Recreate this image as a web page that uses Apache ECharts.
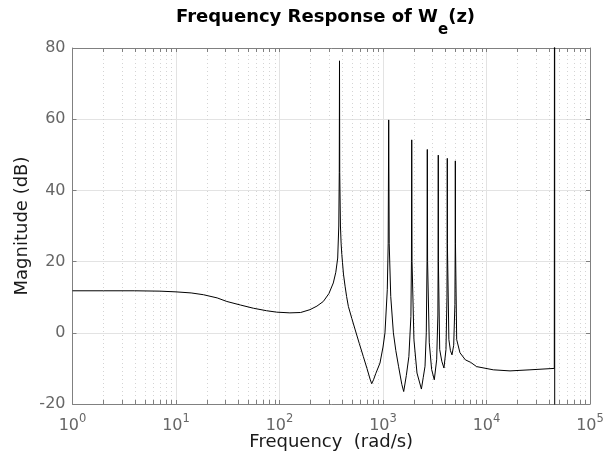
<!DOCTYPE html>
<html><head><meta charset="utf-8">
<script src="https://cdn.jsdelivr.net/npm/echarts@6/dist/echarts.min.js"></script>
<style>html,body{margin:0;padding:0;background:#fff}#c{width:604px;height:458px}</style>
</head><body><div id="c"></div>
<script>
// Frequency (rad/s) and magnitude (dB)
const freq = [1, 2, 4, 7, 10, 14, 18.4, 25, 31, 42, 56, 75, 94, 126, 160, 197, 230, 265, 300, 331, 350, 365, 374, 378, 380, 382, 388, 394, 400, 406, 415, 430, 445, 463, 500, 539, 590, 646, 700, 750, 778, 810, 850, 935, 1000, 1045, 1100, 1122, 1135, 1148, 1188, 1260, 1330, 1413, 1520, 1585, 1680, 1778, 1860, 1883, 1895, 1908, 1990, 2130, 2350, 2450, 2547, 2620, 2664, 2680, 2696, 2800, 2950, 3130, 3300, 3390, 3410, 3420, 3430, 3530, 3700, 3880, 4060, 4150, 4170, 4180, 4190, 4330, 4480, 4640, 4820, 4950, 4985, 5000, 5015, 5150, 5540, 6250, 7030, 8030, 11640, 16870, 26300, 45200, 45600, 45600];
const magDb = [11.8, 11.8, 11.8, 11.7, 11.5, 11.2, 10.7, 9.8, 8.8, 7.8, 6.9, 6.2, 5.8, 5.6, 5.7, 6.5, 7.5, 8.8, 11.0, 14.0, 17.0, 21.0, 30.0, 45.0, 76.4, 45.0, 30.0, 25.0, 22.0, 19.8, 16.5, 13.1, 10.2, 7.4, 4.0, 0.8, -3.0, -6.7, -10.0, -13.0, -14.3, -13.2, -11.5, -8.5, -4.0, 0.0, 12.1, 25.0, 59.8, 25.0, 10.2, 0.0, -5.0, -9.4, -14.5, -16.5, -12.0, -6.7, 4.6, 20.0, 54.2, 20.0, -1.9, -11.3, -15.8, -12.5, -9.4, 0.0, 20.0, 51.5, 20.0, -2.8, -10.3, -13.2, -7.6, 5.0, 20.0, 49.9, 20.0, -4.7, -8.0, -9.9, -4.7, 10.0, 25.0, 49.0, 25.0, -1.9, -5.0, -6.2, -3.5, 8.0, 25.0, 48.3, 25.0, -1.9, -5.6, -7.6, -8.3, -9.5, -10.4, -10.7, -10.4, -10.0, 300, -300];
const xDecades = [1, 10, 100, 1000, 10000, 100000];
const yTickValues = [-20, 0, 20, 40, 60, 80];

const xMin = xDecades[0], xMax = xDecades[xDecades.length - 1];
const yMin = yTickValues[0], yMax = yTickValues[yTickValues.length - 1];

const curve = freq.map((f, i) => [f, magDb[i]]);

// minor log positions 2..9 x 10^k
const minor = [];
for (let k = 0; k < xDecades.length - 1; k++) {
  for (let m = 2; m <= 9; m++) minor.push(m * xDecades[k]);
}
const tickLenDb = 4 / 356 * (yMax - yMin);
const minorLines = [];
minor.forEach(v => {
  minorLines.push({ xAxis: v, lineStyle: { color: '#d4d4d4', type: [1, 3], width: 1 } });
});
minor.forEach(v => {
  minorLines.push([{ coord: [v, yMin], lineStyle: { color: '#808080', type: 'solid', width: 1 } }, { coord: [v, yMin + tickLenDb] }]);
  minorLines.push([{ coord: [v, yMax], lineStyle: { color: '#808080', type: 'solid', width: 1 } }, { coord: [v, yMax - tickLenDb] }]);
});

const tickColor = '#666666';
const boxColor = '#808080';

const chart = echarts.init(document.getElementById('c'), null, { renderer: 'canvas' });
chart.setOption({
  animation: false,
  backgroundColor: '#ffffff',
  title: {
    text: '{a|Frequency Response of W}{e|e}{a|(z)}',
    left: 176,
    top: 8,
    padding: 0,
    textStyle: {
      rich: {
        a: { fontFamily: 'DejaVu Sans', fontSize: 18, fontWeight: 'bold', color: '#000', verticalAlign: 'top', lineHeight: 22 },
        e: { fontFamily: 'DejaVu Sans', fontSize: 15, fontWeight: 'bold', color: '#000', verticalAlign: 'top', padding: [15, 0, 0, 0], lineHeight: 18 }
      }
    }
  },
  grid: { left: 72.5, right: 14, top: 48, bottom: 54, containLabel: false, outerBoundsMode: 'none' },
  xAxis: [{
    type: 'log', logBase: 10, min: xMin, max: xMax, position: 'bottom',
    name: 'Frequency  (rad/s)', nameLocation: 'middle', nameGap: 29, nameMoveOverlap: false,
    nameTextStyle: { fontFamily: 'DejaVu Sans', fontSize: 18, color: '#1a1a1a' },
    axisLine: { show: true, onZero: false, lineStyle: { color: boxColor, width: 1 } },
    axisTick: { show: true, inside: true, length: 4, lineStyle: { color: boxColor } },
    minorTick: { show: false },
    splitLine: { show: true, lineStyle: { color: '#e3e3e3', width: 1 } },
    axisLabel: {
      margin: 9,
      formatter: v => '{b|10}{s|' + Math.round(Math.log10(v)) + '}',
      rich: {
        b: { fontFamily: 'DejaVu Sans', fontSize: 16, color: tickColor, verticalAlign: 'bottom' },
        s: { fontFamily: 'DejaVu Sans', fontSize: 11.5, color: tickColor, verticalAlign: 'bottom', padding: [0, 0, 9, 0] }
      }
    }
  }, {
    type: 'log', logBase: 10, min: xMin, max: xMax, position: 'top',
    axisLine: { show: true, onZero: false, lineStyle: { color: boxColor, width: 1 } },
    axisTick: { show: true, inside: true, length: 4, lineStyle: { color: boxColor } },
    axisLabel: { show: false }, splitLine: { show: false }
  }],
  yAxis: [{
    type: 'value', min: yMin, max: yMax, interval: 20, position: 'left',
    name: 'Magnitude (dB)', nameLocation: 'middle', nameGap: 41, nameMoveOverlap: false,
    nameTextStyle: { fontFamily: 'DejaVu Sans', fontSize: 18, color: '#1a1a1a' },
    axisLine: { show: true, onZero: false, lineStyle: { color: boxColor, width: 1 } },
    axisTick: { show: true, inside: true, length: 4, lineStyle: { color: boxColor } },
    splitLine: { show: true, lineStyle: { color: '#e3e3e3', width: 1 } },
    axisLabel: { fontFamily: 'DejaVu Sans', fontSize: 16, color: tickColor, margin: 7 }
  }, {
    type: 'value', min: yMin, max: yMax, interval: 20, position: 'right',
    axisLine: { show: true, onZero: false, lineStyle: { color: boxColor, width: 1 } },
    axisTick: { show: true, inside: true, length: 4, lineStyle: { color: boxColor } },
    axisLabel: { show: false }, splitLine: { show: false }
  }],
  series: [{
    type: 'line', xAxisIndex: 0, yAxisIndex: 0, data: [], z: 1, silent: true,
    markLine: { silent: true, symbol: ['none', 'none'], label: { show: false }, emphasis: { disabled: true }, animation: false, data: minorLines }
  }, {
    type: 'line', xAxisIndex: 0, yAxisIndex: 0, data: curve, z: 5,
    showSymbol: false, symbol: 'none', clip: true, smooth: false,
    lineStyle: { color: '#000000', width: 1 }
  }]
});
</script></body></html>
